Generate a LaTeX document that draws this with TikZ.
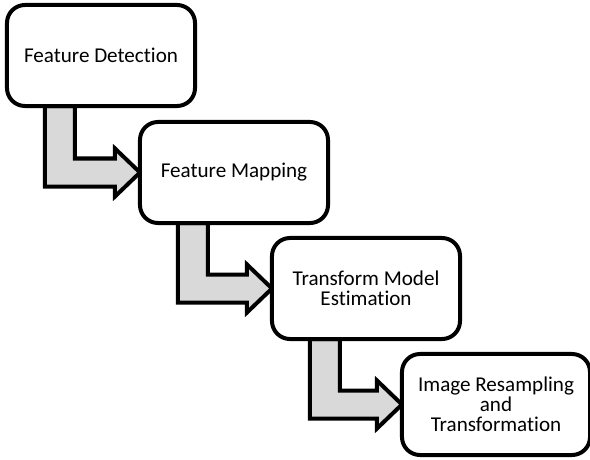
\documentclass[tikz,border=0pt]{standalone}
\usepackage{fontspec}
\setmainfont{Carlito}[Ligatures={NoCommon,NoRare}]
\usetikzlibrary{calc,backgrounds}
\definecolor{arrowgray}{HTML}{D9D9D9}

% bent block arrow from the bottom of one box to the left side of the next
\newcommand{\steparrow}[2]{%
	\draw[steparrow] ($(#1.south west)+(38,0)$) -- ($(#1.south west)+(68,0)$)
		|- ($(#2.west)+(-25,-14)$) -- ($(#2.west)+(-25,-24)$) -- (#2.west)
		-- ($(#2.west)+(-25,24)$) -- ($(#2.west)+(-25,14)$)
		-| ($(#1.south west)+(38,0)$) -- cycle;
}

\begin{document}
\begin{tikzpicture}[x=0.025cm, y=-0.025cm,
	flowbox/.style={draw, fill=white, line width=0.1cm, rounded corners=0.45cm,
		minimum width=4.7cm, minimum height=2.525cm, outer sep=0pt,
		align=center, font=\fontsize{15}{14.2}\selectfont},
	steparrow/.style={draw, fill=arrowgray, line width=0.1cm, line join=miter}]
	\useasboundingbox (0,0) rectangle (590,459);
	\node[flowbox] (detect) at (101, 55.5) {Feature Detection};
	\node[flowbox] (mapping) at (234, 172.5) {Feature Mapping};
	\node[flowbox] (estimate) at (366, 288.5) {Transform Model\\Estimation};
	\node[flowbox] (resample) at (496, 404.5) {Image Resampling\\and\\Transformation};
	\begin{scope}[on background layer]
		\steparrow{detect}{mapping}
		\steparrow{mapping}{estimate}
		\steparrow{estimate}{resample}
	\end{scope}
\end{tikzpicture}
\end{document}
